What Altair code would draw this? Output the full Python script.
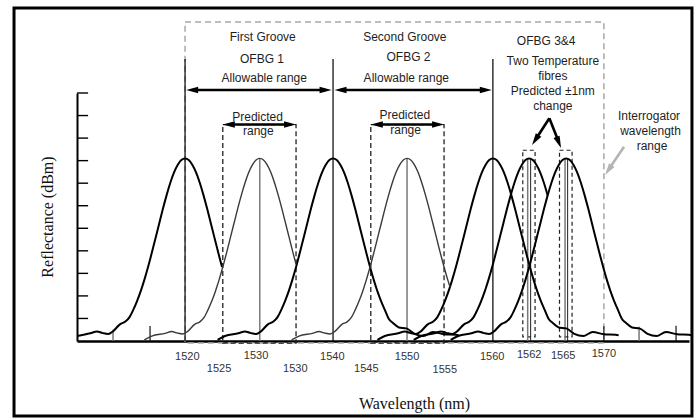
import altair as alt
import pandas as pd

# ---------------- data (schematic wavelength units, reflectance units) ----------------
peak_names = ["1520", "1530", "1540", "1550", "1560", "1562", "1565"]
peak_centres = [1520.0, 1530.1, 1540.0, 1550.0, 1561.6, 1566.5, 1571.5]
peak_weight = ["bold", "light", "bold", "light", "bold", "bold", "bold"]
peak_lo = [-14.6, -15.6, -15.6, -15.6, -15.6, -15.6, -15.6]
peak_hi = [5.0, 4.9, 17.0, 5.8, 17.0, 2.5, 17.0]

# reflection profile: offset from centre (nm) and reflectance
profile_dx = [-15.6, -14.6, -12.8, -11.9, -11.2, -10.4, -9.7, -8.8, -8.1, -7.5, -7.0,
              -6.5, -6.0, -5.8, -5.5, -5.0, -4.5, -4.0, -3.5, -3.0, -2.5, -2.0, -1.5,
              -1.0, -0.5, 0.0, 0.5, 1.0, 1.5, 2.0, 2.5, 3.0, 3.5, 4.0, 4.5, 4.9, 5.0,
              5.5, 5.8, 6.0, 6.5, 7.0, 7.5, 8.1, 8.9, 9.9, 11.0, 12.2, 13.5, 15.0, 16.6, 17.0]
profile_h = [0.05, 0.22, 0.34, 0.42, 0.36, 0.31, 0.44, 0.74, 0.85, 1.06, 1.38,
             1.76, 2.20, 2.40, 2.71, 3.28, 3.90, 4.55, 5.20, 5.85, 6.46, 7.01, 7.47,
             7.81, 8.03, 8.10, 8.03, 7.81, 7.47, 7.01, 6.46, 5.85, 5.20, 4.55, 3.90, 3.40, 3.28,
             2.71, 2.40, 2.20, 1.76, 1.38, 1.00, 0.80, 0.60, 0.56, 0.32, 0.22, 0.40, 0.30, 0.28, 0.25]

# vertical marker lines
tall_x = [1520.0, 1540.0, 1561.6]
tall_top = [12.51, 12.51, 12.51]
centre_gray_x = [1530.1, 1550.0, 1566.3, 1571.35]
centre_black_x = [1566.7, 1571.7]
centre_top = 8.1

# short ticks on the baseline
base_tick_gray_x = [1510.27, 1581.35]
base_tick_gray_h = [0.50, 0.63]
base_tick_black_x = [1515.27, 1576.6, 1586.35]
base_tick_black_h = [0.66, 0.65, 0.68]

# y axis ticks
ytick_vals = [1, 2, 3, 4, 5, 6, 7, 8, 9, 10, 11]
ytick_x0, ytick_x1 = 1505.4, 1506.9

# boxes
interrog_box = dict(x=1520.0, x2=1576.6, y=-0.09, y2=14.15)
pred_box_x = [1525.1, 1545.1]
pred_box_x2 = [1535.0, 1555.0]
pred_box_top = 9.6
pred_box_bottom = -0.09
small_box_x = [1565.64, 1570.6]
small_box_x2 = [1567.3, 1572.3]
small_box_y, small_box_y2 = 0.18, 8.46
frame = dict(x=1496.89, x2=1588.5, y=-3.33, y2=14.77)

# arrows: shafts and heads
shaft_x = [1521.0, 1541.0, 1525.9, 1545.9, 1569.23, 1569.23]
shaft_x2 = [1539.0, 1560.6, 1534.2, 1554.2, 1567.48, 1570.42]
shaft_y = [11.13, 11.13, 9.6, 9.6, 9.88, 9.88]
shaft_y2 = [11.13, 11.13, 9.6, 9.6, 8.99, 8.89]
head_x = [1520.15, 1539.8, 1540.2, 1561.45, 1525.1, 1535.0, 1545.1, 1555.0, 1566.89, 1570.81]
head_y = [11.13, 11.13, 11.13, 11.13, 9.6, 9.6, 9.6, 9.6, 8.69, 8.56]
head_angle = [180, 0, 180, 0, 180, 0, 180, 0, 123, 68]
gray_shaft = dict(x=1579.32, y=8.62, x2=1577.36, y2=7.66)
gray_head = dict(x=1576.76, y=7.36, angle=124)

# annotation text
ann_text = ["First Groove", "OFBG 1", "Allowable range", "Predicted", "range",
            "Second Groove", "OFBG 2", "Allowable range", "Predicted", "range",
            "OFBG 3&4", "Two Temperature", "fibres", "Predicted ±1nm", "change",
            "Interrogator", "wavelength", "range"]
ann_x = [1530.5, 1530.4, 1530.7, 1529.8, 1529.9,
         1549.7, 1550.2, 1549.9, 1549.7, 1549.8,
         1568.8, 1569.7, 1569.7, 1569.7, 1569.7,
         1582.7, 1582.9, 1583.1]
ann_y = [13.50, 12.50, 11.65, 9.95, 9.31,
         13.50, 12.61, 11.65, 10.02, 9.36,
         13.32, 12.42, 11.75, 11.09, 10.42,
         9.98, 9.31, 8.66]

# wavelength labels (two staggered rows)
tick_lab = ["1520", "1530", "1540", "1550", "1560", "1562", "1565", "1570",
            "1525", "1530", "1545", "1555"]
tick_x = [1520.3, 1529.6, 1539.9, 1550.0, 1561.5, 1566.5, 1571.1, 1576.6,
          1524.6, 1534.9, 1544.5, 1555.1]
tick_y = [-0.69, -0.65, -0.69, -0.69, -0.69, -0.62, -0.65, -0.58,
          -1.26, -1.24, -1.23, -1.30]

# ---------------- tables ----------------
rows = []
for name, c, w, lo, hi in zip(peak_names, peak_centres, peak_weight, peak_lo, peak_hi):
    for dx, h in zip(profile_dx, profile_h):
        if lo - 1e-9 <= dx <= hi + 1e-9:
            rows.append(dict(curve=name, weight=w, x=round(c + dx, 3), r=h))
curves = pd.DataFrame(rows)

xs = alt.Scale(domain=[1505.4, 1588.1], nice=False, zero=False)
ys = alt.Scale(domain=[0, 11], nice=False, zero=False)

x_axis = alt.Axis(
    domain=True, domainColor="black", domainWidth=2.5, ticks=False,
    labels=False, grid=False, title="Wavelength (nm)",
    titleFont="Liberation Serif", titleFontSize=16, titleFontWeight="normal",
    titleColor="#111", titleX=337, titleY=62, titleBaseline="middle",
    titleAlign="center")
y_axis = alt.Axis(
    domain=True, domainColor="black", domainWidth=2, ticks=False,
    labels=False, grid=False, title="Reflectance (dBm)",
    titleFont="Liberation Serif", titleFontSize=16, titleFontWeight="normal",
    titleColor="#111", titleX=-29.5, titleY=123.5, titleAngle=270,
    titleBaseline="middle", titleAlign="center")


def X(f):
    return alt.X(f, type="quantitative", scale=xs, axis=x_axis)


def Y(f):
    return alt.Y(f, type="quantitative", scale=ys, axis=y_axis)


layers = []

# outer frame
layers.append(alt.Chart(pd.DataFrame([frame])).mark_rect(
    fill=None, stroke="black", strokeWidth=3).encode(
    x=X("x"), x2="x2", y=Y("y"), y2="y2"))

# interrogator range (gray dashed)
layers.append(alt.Chart(pd.DataFrame([interrog_box])).mark_rect(
    fill=None, stroke="#a8a8a8", strokeWidth=1.5, strokeDash=[6, 4]).encode(
    x=X("x"), x2="x2", y=Y("y"), y2="y2"))

# predicted range boxes
pb = pd.DataFrame(dict(x=pred_box_x, x2=pred_box_x2,
                       y=[pred_box_bottom] * 2, y2=[pred_box_top] * 2))
layers.append(alt.Chart(pb).mark_rect(
    fill=None, stroke="#222", strokeWidth=1.3, strokeDash=[5, 3]).encode(
    x=X("x"), x2="x2", y=Y("y"), y2="y2"))

sb = pd.DataFrame(dict(x=small_box_x, x2=small_box_x2,
                       y=[small_box_y] * 2, y2=[small_box_y2] * 2))
layers.append(alt.Chart(sb).mark_rect(
    fill=None, stroke="#222", strokeWidth=1.2, strokeDash=[4, 3]).encode(
    x=X("x"), x2="x2", y=Y("y"), y2="y2"))

# vertical marker lines
layers.append(alt.Chart(pd.DataFrame(dict(x=tall_x, y=[0] * 3, y2=tall_top))).mark_rule(
    color="black", strokeWidth=1.2).encode(x=X("x"), y=Y("y"), y2="y2"))
layers.append(alt.Chart(pd.DataFrame(dict(x=centre_gray_x, y=[0] * 4,
                                          y2=[centre_top] * 4))).mark_rule(
    color="#7a7a7a", strokeWidth=1.5).encode(x=X("x"), y=Y("y"), y2="y2"))
layers.append(alt.Chart(pd.DataFrame(dict(x=centre_black_x, y=[0] * 2,
                                          y2=[centre_top] * 2))).mark_rule(
    color="#222", strokeWidth=1.0).encode(x=X("x"), y=Y("y"), y2="y2"))

# baseline ticks
layers.append(alt.Chart(pd.DataFrame(dict(x=base_tick_gray_x, y=[0] * 2,
                                          y2=base_tick_gray_h))).mark_rule(
    color="#777", strokeWidth=1.5).encode(x=X("x"), y=Y("y"), y2="y2"))
layers.append(alt.Chart(pd.DataFrame(dict(x=base_tick_black_x, y=[0] * 3,
                                          y2=base_tick_black_h))).mark_rule(
    color="#111", strokeWidth=1.2).encode(x=X("x"), y=Y("y"), y2="y2"))

# y ticks (inside)
layers.append(alt.Chart(pd.DataFrame(dict(y=ytick_vals, x=[ytick_x0] * 11,
                                          x2=[ytick_x1] * 11))).mark_rule(
    color="black", strokeWidth=1.4).encode(x=X("x"), x2="x2", y=Y("y")))

# spectra
layers.append(alt.Chart(curves[curves.weight == "bold"]).mark_line(
    color="black", strokeWidth=2.0, interpolate="monotone").encode(
    x=X("x"), y=Y("r"), detail="curve:N"))
layers.append(alt.Chart(curves[curves.weight == "light"]).mark_line(
    color="#3a3a3a", strokeWidth=1.4, interpolate="monotone").encode(
    x=X("x"), y=Y("r"), detail="curve:N"))

# arrows
layers.append(alt.Chart(pd.DataFrame(dict(x=shaft_x, x2=shaft_x2, y=shaft_y,
                                          y2=shaft_y2))).mark_rule(
    color="black", strokeWidth=2.6).encode(x=X("x"), x2="x2", y=Y("y"), y2="y2"))
arrow_shape = "M0,0L-2,-0.55L-2,0.55Z"
layers.append(alt.Chart(pd.DataFrame(dict(x=head_x, y=head_y, a=head_angle))).mark_point(
    shape=arrow_shape, filled=True, size=144, color="black", opacity=1,
    strokeWidth=0).encode(x=X("x"), y=Y("y"), angle=alt.Angle("a:Q", scale=None)))
layers.append(alt.Chart(pd.DataFrame([gray_shaft])).mark_rule(
    color="#b4b4b4", strokeWidth=2.6).encode(x=X("x"), x2="x2", y=Y("y"), y2="y2"))
layers.append(alt.Chart(pd.DataFrame([gray_head])).mark_point(
    shape=arrow_shape, filled=True, size=144, color="#b4b4b4", opacity=1,
    strokeWidth=0).encode(x=X("x"), y=Y("y"), angle=alt.Angle("angle:Q", scale=None)))

# text
layers.append(alt.Chart(pd.DataFrame(dict(t=ann_text, x=ann_x, y=ann_y))).mark_text(
    font="Liberation Sans", fontSize=12, color="#1e1e1e", align="center",
    baseline="middle").encode(x=X("x"), y=Y("y"), text="t:N"))
layers.append(alt.Chart(pd.DataFrame(dict(t=tick_lab, x=tick_x, y=tick_y))).mark_text(
    font="Liberation Sans", fontSize=11, color="#333", align="center",
    baseline="middle").encode(x=X("x"), y=Y("y"), text="t:N"))

chart = alt.layer(*layers).properties(
    width=612, height=248,
    padding={"left": 77, "top": 93, "right": 8, "bottom": 77},
    autosize=alt.AutoSizeParams(type="none"),
    background="white",
).configure_view(strokeWidth=0)

chart.save("out.html", embed_options={"renderer": "svg", "actions": False})
